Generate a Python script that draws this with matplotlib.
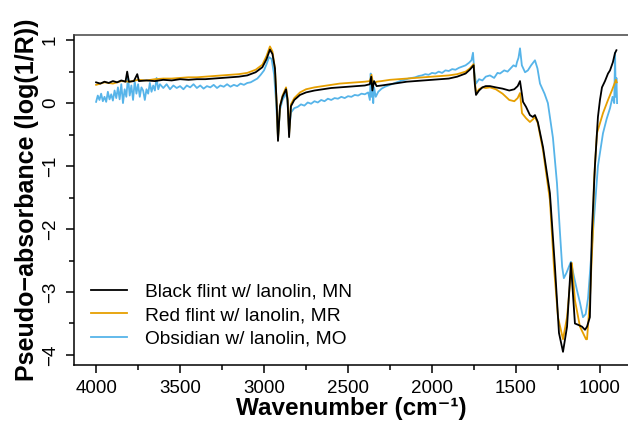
#!/usr/bin/env python3

import numpy as np
import matplotlib.pyplot as plt
from matplotlib.ticker import MultipleLocator

plt.rcParams['font.family'] = ['Liberation Sans', 'DejaVu Sans']

# Black flint w/ lanolin, MN
wn_mn = [4000, 3975, 3950, 3925, 3900, 3875, 3850, 3825, 3815, 3805, 3775, 3755, 3745,
         3700, 3650, 3600, 3550, 3500, 3450, 3400, 3350, 3300, 3250, 3200, 3150, 3100,
         3050, 3010, 2985, 2965, 2950, 2935, 2925, 2917, 2905, 2890, 2869, 2860, 2851,
         2840, 2820, 2786, 2750, 2700, 2650, 2600, 2550, 2500, 2450, 2400, 2370, 2362,
         2355, 2345, 2330, 2300, 2250, 2200, 2150, 2100, 2050, 2000, 1950, 1900, 1850,
         1800, 1775, 1752, 1745, 1738, 1720, 1700, 1680, 1655, 1620, 1580, 1540, 1510,
         1490, 1476, 1465, 1458, 1440, 1417, 1400, 1387, 1370, 1339, 1298, 1268, 1244,
         1220, 1196, 1173, 1149, 1131, 1107, 1089, 1077, 1060, 1048, 1030, 1012, 1000,
         988, 970, 952, 940, 923, 911, 902]
ab_mn = [0.33, 0.31, 0.34, 0.32, 0.35, 0.33, 0.36, 0.34, 0.50, 0.34, 0.35, 0.46, 0.35,
         0.36, 0.35, 0.37, 0.36, 0.38, 0.37, 0.38, 0.38, 0.39, 0.40, 0.41, 0.42, 0.44,
         0.49, 0.57, 0.70, 0.85, 0.78, 0.55, 0.00, -0.60, -0.05, 0.10, 0.22, 0.05, -0.54,
         -0.05, 0.05, 0.13, 0.17, 0.20, 0.22, 0.24, 0.25, 0.26, 0.27, 0.28, 0.30, 0.42,
         0.20, 0.35, 0.27, 0.28, 0.30, 0.32, 0.34, 0.35, 0.36, 0.37, 0.38, 0.39, 0.42,
         0.47, 0.53, 0.60, 0.30, 0.13, 0.20, 0.25, 0.27, 0.27, 0.25, 0.23, 0.20, 0.22,
         0.27, 0.35, 0.15, 0.02, -0.06, -0.19, -0.22, -0.19, -0.30, -0.70, -1.43, -2.60, -3.65,
         -3.95, -3.55, -2.54, -3.50, -3.52, -3.55, -3.60, -3.55, -3.40, -2.06, -1.00, -0.22, 0.05,
         0.25, 0.35, 0.47, 0.52, 0.65, 0.79, 0.84]

# Red flint w/ lanolin, MR
wn_mr = [4000, 3950, 3900, 3850, 3800, 3750, 3700, 3650, 3600, 3550, 3500, 3450, 3400,
         3350, 3300, 3250, 3200, 3150, 3100, 3050, 3010, 2985, 2965, 2950, 2935, 2925,
         2917, 2905, 2890, 2869, 2860, 2851, 2840, 2820, 2786, 2750, 2700, 2650, 2600,
         2550, 2500, 2450, 2400, 2370, 2360, 2350, 2330, 2300, 2250, 2200, 2150, 2100,
         2050, 2000, 1950, 1900, 1850, 1800, 1775, 1752, 1745, 1738, 1720, 1700, 1680,
         1655, 1620, 1580, 1540, 1510, 1490, 1476, 1464, 1440, 1417, 1400, 1387, 1370,
         1339, 1298, 1274, 1250, 1220, 1196, 1167, 1149, 1119, 1083, 1077, 1060, 1042,
         1036, 1018, 982, 952, 929, 905, 900]
ab_mr = [0.29, 0.33, 0.31, 0.35, 0.34, 0.37, 0.36, 0.38, 0.39, 0.39, 0.40, 0.41, 0.41,
         0.42, 0.43, 0.44, 0.45, 0.46, 0.48, 0.53, 0.61, 0.75, 0.90, 0.82, 0.55, 0.00,
         -0.58, -0.05, 0.12, 0.25, 0.08, -0.50, -0.02, 0.08, 0.17, 0.22, 0.25, 0.27, 0.29,
         0.31, 0.32, 0.33, 0.34, 0.35, 0.45, 0.30, 0.34, 0.35, 0.37, 0.38, 0.39, 0.40,
         0.41, 0.42, 0.43, 0.44, 0.46, 0.50, 0.55, 0.62, 0.35, 0.16, 0.22, 0.25, 0.24,
         0.25, 0.22, 0.15, 0.05, 0.03, 0.08, 0.16, -0.16, -0.24, -0.30, -0.26, -0.22, -0.32,
         -0.75, -1.54, -2.60, -3.40, -3.75, -3.40, -2.54, -3.13, -3.55, -3.75, -3.75, -3.13, -2.06,
         -1.27, -0.48, -0.16, 0.05, 0.20, 0.37, 0.33]

# Obsidian w/ lanolin, MO
wn_mo = [4000, 3990, 3980, 3970, 3960, 3950, 3940, 3930, 3920, 3910, 3900, 3890, 3880,
         3870, 3860, 3850, 3840, 3830, 3820, 3810, 3800, 3790, 3780, 3770, 3760, 3750,
         3740, 3730, 3720, 3710, 3700, 3690, 3680, 3670, 3660, 3650, 3640, 3630, 3620,
         3600, 3580, 3560, 3540, 3520, 3500, 3480, 3460, 3440, 3420, 3400, 3380, 3360,
         3340, 3320, 3300, 3280, 3260, 3240, 3220, 3200, 3180, 3160, 3140, 3120, 3100,
         3080, 3060, 3040, 3020, 3000, 2985, 2970, 2955, 2940, 2928, 2917, 2905, 2890,
         2869, 2860, 2851, 2840, 2820, 2800, 2780, 2760, 2740, 2720, 2700, 2680, 2660,
         2640, 2620, 2600, 2580, 2560, 2540, 2520, 2500, 2480, 2460, 2440, 2420, 2400,
         2380, 2370, 2365, 2360, 2355, 2350, 2345, 2335, 2320, 2300, 2280, 2260, 2240,
         2220, 2200, 2180, 2160, 2140, 2120, 2100, 2080, 2060, 2040, 2020, 2000, 1980,
         1960, 1940, 1920, 1900, 1880, 1860, 1840, 1820, 1800, 1780, 1765, 1756, 1748,
         1738, 1720, 1700, 1680, 1655, 1630, 1610, 1595, 1570, 1550, 1536, 1515, 1500,
         1494, 1485, 1476, 1465, 1446, 1429, 1410, 1387, 1372, 1357, 1330, 1310, 1280,
         1256, 1238, 1225, 1215, 1200, 1173, 1155, 1137, 1119, 1101, 1085, 1071, 1042,
         1012, 982, 960, 940, 925, 915, 910, 906, 902, 898]
ab_mo = [0.02, 0.12, 0.05, 0.15, 0.03, 0.10, 0.02, 0.18, 0.06, 0.14, 0.04, 0.20, 0.08,
         0.25, 0.06, 0.30, 0.00, 0.22, 0.10, 0.42, 0.12, 0.28, 0.05, 0.35, 0.15, 0.30,
         0.10, 0.25, 0.20, 0.05, 0.22, 0.15, 0.32, 0.18, 0.28, 0.20, 0.40, 0.22, 0.30,
         0.24, 0.30, 0.22, 0.28, 0.24, 0.27, 0.22, 0.28, 0.25, 0.30, 0.24, 0.28, 0.23,
         0.27, 0.25, 0.29, 0.24, 0.28, 0.26, 0.30, 0.26, 0.29, 0.27, 0.31, 0.29, 0.32,
         0.33, 0.36, 0.39, 0.45, 0.52, 0.62, 0.73, 0.70, 0.45, 0.00, -0.54, -0.10, 0.05,
         0.16, 0.00, -0.43, -0.15, -0.08, -0.06, -0.02, -0.04, 0.01, -0.01, 0.03, 0.01, 0.05,
         0.03, 0.07, 0.05, 0.08, 0.07, 0.10, 0.08, 0.11, 0.10, 0.13, 0.12, 0.15, 0.14,
         0.17, 0.05, 0.47, 0.10, 0.35, 0.00, 0.25, 0.10, 0.18, 0.23, 0.26, 0.28, 0.30,
         0.32, 0.34, 0.36, 0.37, 0.39, 0.40, 0.41, 0.43, 0.44, 0.46, 0.45, 0.48, 0.47,
         0.50, 0.48, 0.52, 0.51, 0.54, 0.53, 0.56, 0.58, 0.60, 0.64, 0.68, 0.80, 0.50,
         0.31, 0.38, 0.36, 0.42, 0.44, 0.40, 0.48, 0.47, 0.52, 0.50, 0.54, 0.60, 0.58,
         0.65, 0.72, 0.87, 0.60, 0.49, 0.52, 0.60, 0.68, 0.55, 0.31, 0.15, 0.00, -0.55,
         -1.27, -2.06, -2.60, -2.78, -2.70, -2.52, -2.75, -2.97, -3.17, -3.40, -3.35, -3.10, -2.06,
         -1.00, -0.48, -0.25, -0.08, 0.10, 0.00, 0.80, 0.10, 0.40, 0.00]

labels = ['Black flint w/ lanolin, MN', 'Red flint w/ lanolin, MR', 'Obsidian w/ lanolin, MO']
colors = ['#000000', '#E69F00', '#56B4E9']


def plot_spectra():
    '''
    Draws the three reflectance spectra.
    '''
    fig = plt.figure(figsize=(6.28, 4.23), dpi=100)
    ax = fig.add_axes([0.118, 0.137, 0.882, 0.780])

    series = [(wn_mn, ab_mn), (wn_mr, ab_mr), (wn_mo, ab_mo)]
    # blue first so black/orange sit on top like the reference
    for i in [2, 1, 0]:
        w, a = series[i]
        ax.plot(np.array(w), np.array(a), color=colors[i], lw=1.3, label=labels[i])

    ax.set_xlim(4131, 833)
    ax.set_ylim(-4.16, 1.08)
    ax.xaxis.set_major_locator(MultipleLocator(500))
    ax.xaxis.set_minor_locator(MultipleLocator(250))
    ax.yaxis.set_major_locator(MultipleLocator(1))
    ax.yaxis.set_minor_locator(MultipleLocator(0.5))
    ax.tick_params(which='major', length=6, width=1.1, labelsize=13.5, direction='out')
    ax.tick_params(which='minor', length=3.5, width=1.1)
    ax.tick_params(axis='x', pad=5)
    ax.tick_params(axis='y', labelrotation=90, pad=5)
    for lab in ax.get_yticklabels():
        lab.set_va('center')

    ax.spines['right'].set_visible(False)
    for s in ['left', 'bottom', 'top']:
        ax.spines[s].set_linewidth(1.1)
    ax.spines['top'].set_color('#444444')

    ax.set_xlabel('Wavenumber (cm\u207b\u00b9)', fontsize=17.5, fontweight='bold', labelpad=0)
    ax.set_ylabel('Pseudo\u2212absorbance (log(1/R))', fontsize=18, fontweight='bold', labelpad=2)

    h, l = ax.get_legend_handles_labels()
    ax.legend(h[::-1], l[::-1], loc='lower left', bbox_to_anchor=(0.0, 0.0), frameon=False,
              fontsize=13.8, handlelength=1.85, labelspacing=0.33, handletextpad=0.95)

    fig.savefig('out.png', dpi=100)


if __name__ == '__main__':
    plot_spectra()
